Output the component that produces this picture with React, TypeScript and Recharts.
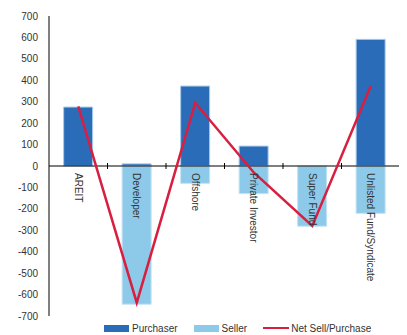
import React from 'react';
import { ComposedChart, Bar, Line, XAxis, YAxis, ReferenceLine, Legend } from 'recharts';

const categories = ['AREIT', 'Developer', 'Offshore', 'Private Investor', 'Super Fund', 'Unlisted Fund/Syndicate'];
const purchaser = [275, 10, 373, 93, 0, 591];
const seller = [0, -645, -81, -129, -281, -221];
const net = [278, -638, 295, -30, -280, 373];
const yTicks = [700, 600, 500, 400, 300, 200, 100, 0, -100, -200, -300, -400, -500, -600, -700];

const data = categories.map((name, i) => ({
  name,
  Purchaser: purchaser[i],
  Seller: seller[i],
  Net: net[i],
}));

const W = 399;
const H = 327;
const MARGIN = { top: 8, right: 7, left: 0, bottom: 0 };
const YAXIS_W = 41;
const LEGEND_H = 14;
const XAXIS_H = 5;
const PLOT_LEFT = MARGIN.left + YAXIS_W;
const PLOT_RIGHT = W - MARGIN.right;
const PLOT_TOP = MARGIN.top;
const PLOT_BOTTOM = H - MARGIN.bottom - LEGEND_H - XAXIS_H;
const BAND = (PLOT_RIGHT - PLOT_LEFT) / categories.length;
const ZERO_Y = (PLOT_TOP + PLOT_BOTTOM) / 2;

const FONT = '"Liberation Sans", Arial, sans-serif';
const TEXT = '#333333';
const C_PURCH = '#2B6CB9';
const C_SELL = '#8DC9E8';
const C_NET = '#D81F3F';

const CategoryTick = (props: any) => {
  const { x, payload } = props;
  return (
    <g>
      <line x1={x + BAND / 2} x2={x + BAND / 2} y1={ZERO_Y - 3} y2={ZERO_Y + 3} stroke="#000" strokeWidth={1} />
      <text
        x={x}
        y={ZERO_Y + 7}
        transform={`rotate(90, ${x}, ${ZERO_Y + 7})`}
        textAnchor="start"
        dominantBaseline="central"
        fontSize={10}
        fontFamily={FONT}
        fill={TEXT}
      >
        {payload.value}
      </text>
    </g>
  );
};

const LegendContent = () => (
  <div
    style={{
      height: LEGEND_H,
      display: 'flex',
      alignItems: 'center',
      fontFamily: FONT,
      fontSize: 10,
      color: TEXT,
      paddingLeft: 96,
      boxSizing: 'border-box',
      whiteSpace: 'nowrap',
    }}
  >
    <span style={{ display: 'inline-block', width: 25, height: 7, background: C_PURCH, marginRight: 3 }} />
    <span style={{ marginRight: 16 }}>Purchaser</span>
    <span style={{ display: 'inline-block', width: 25, height: 7, background: C_SELL, marginRight: 3 }} />
    <span style={{ marginRight: 16 }}>Seller</span>
    <span style={{ display: 'inline-block', width: 26, height: 2.5, background: C_NET, marginRight: 2 }} />
    <span>Net Sell/Purchase</span>
  </div>
);

export default function App() {
  return (
    <ComposedChart width={W} height={H} data={data} margin={MARGIN} stackOffset="sign" barCategoryGap="25%">
      <XAxis
        dataKey="name"
        height={XAXIS_H}
        axisLine={false}
        tickLine={false}
        interval={0}
        tick={<CategoryTick />}
      />
      <YAxis
        width={YAXIS_W}
        domain={[-700, 700]}
        ticks={yTicks}
        interval={0}
        tickLine={false}
        tickMargin={5}
        axisLine={{ stroke: '#000', strokeWidth: 1 }}
        tick={{ fontSize: 10, fontFamily: FONT, fill: TEXT }}
      />
      <Bar dataKey="Purchaser" stackId="a" fill={C_PURCH} stroke="#a9cbec" strokeWidth={1} isAnimationActive={false} />
      <Bar dataKey="Seller" stackId="a" fill={C_SELL} stroke="#c3e3f4" strokeWidth={1} isAnimationActive={false} />
      <ReferenceLine y={0} stroke="#000" strokeWidth={1.2} />
      <Line dataKey="Net" type="linear" stroke={C_NET} strokeWidth={2.5} dot={false} isAnimationActive={false} />
      <Legend verticalAlign="bottom" align="left" content={<LegendContent />} wrapperStyle={{ width: W, left: 0 }} />
    </ComposedChart>
  );
}
